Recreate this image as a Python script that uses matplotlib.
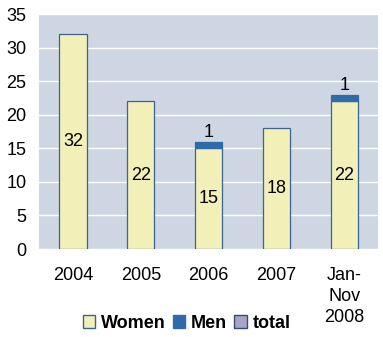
import numpy as np
import matplotlib.pyplot as plt
from matplotlib.patches import Patch

categories = ["2004", "2005", "2006", "2007", "Jan-\nNov\n2008"]
women = [32, 22, 15, 18, 22]
men = [0, 0, 1, 0, 1]

plt.rcParams['font.family'] = ['Liberation Sans', 'DejaVu Sans']

fig = plt.figure(figsize=(3.83, 3.37), dpi=100)
ax = fig.add_axes([0.102, 0.261, 0.885, 0.697])
ax.set_facecolor("#CDD6E2")

x = np.arange(len(categories))
ax.bar(x, women, width=0.4, color="#F2EFB8", edgecolor="#3A6491",
       linewidth=0.9, zorder=3)
m_vals = np.array(men)
has_men = m_vals > 0
ax.bar(x[has_men], m_vals[has_men], width=0.4,
       bottom=np.array(women)[has_men], color="#2E6BA8",
       edgecolor="#2E6BA8", linewidth=0.9, zorder=3)

# value labels
for i, (wv, mv) in enumerate(zip(women, men)):
    ax.text(i, wv / 2, str(wv), ha="center", va="center", fontsize=13, zorder=4)
    if mv > 0:
        ax.text(i, wv + mv + 0.1, str(mv), ha="center", va="bottom",
                fontsize=13, zorder=4)

ax.set_ylim(0, 35)
ax.set_xlim(-0.5, len(categories) - 0.5)
ax.set_yticks(range(0, 36, 5))
ax.set_xticks(x)
ax.set_xticklabels(categories, linespacing=1.3)
ax.tick_params(axis="both", length=0, labelsize=13)
ax.tick_params(axis="y", pad=9)
ax.tick_params(axis="x", pad=13)
ax.yaxis.grid(True, color="white", linewidth=1.0, zorder=0)
ax.set_axisbelow(True)
for s in ax.spines.values():
    s.set_visible(False)

handles = [
    Patch(facecolor="#F2EFB8", edgecolor="#3A6491", label="Women"),
    Patch(facecolor="#2E6BA8", edgecolor="#2E6BA8", label="Men"),
    Patch(facecolor="#A8A4C8", edgecolor="#3A4A6A", label="total"),
]
fig.legend(handles=handles, loc="center", bbox_to_anchor=(0.487, 1 - 323 / 337),
           ncol=3, frameon=False, handlelength=0.7, handleheight=0.7,
           handletextpad=0.3, columnspacing=0.4, borderaxespad=0,
           prop={"weight": "bold", "size": 13})

fig.savefig("out.png", dpi=100)
